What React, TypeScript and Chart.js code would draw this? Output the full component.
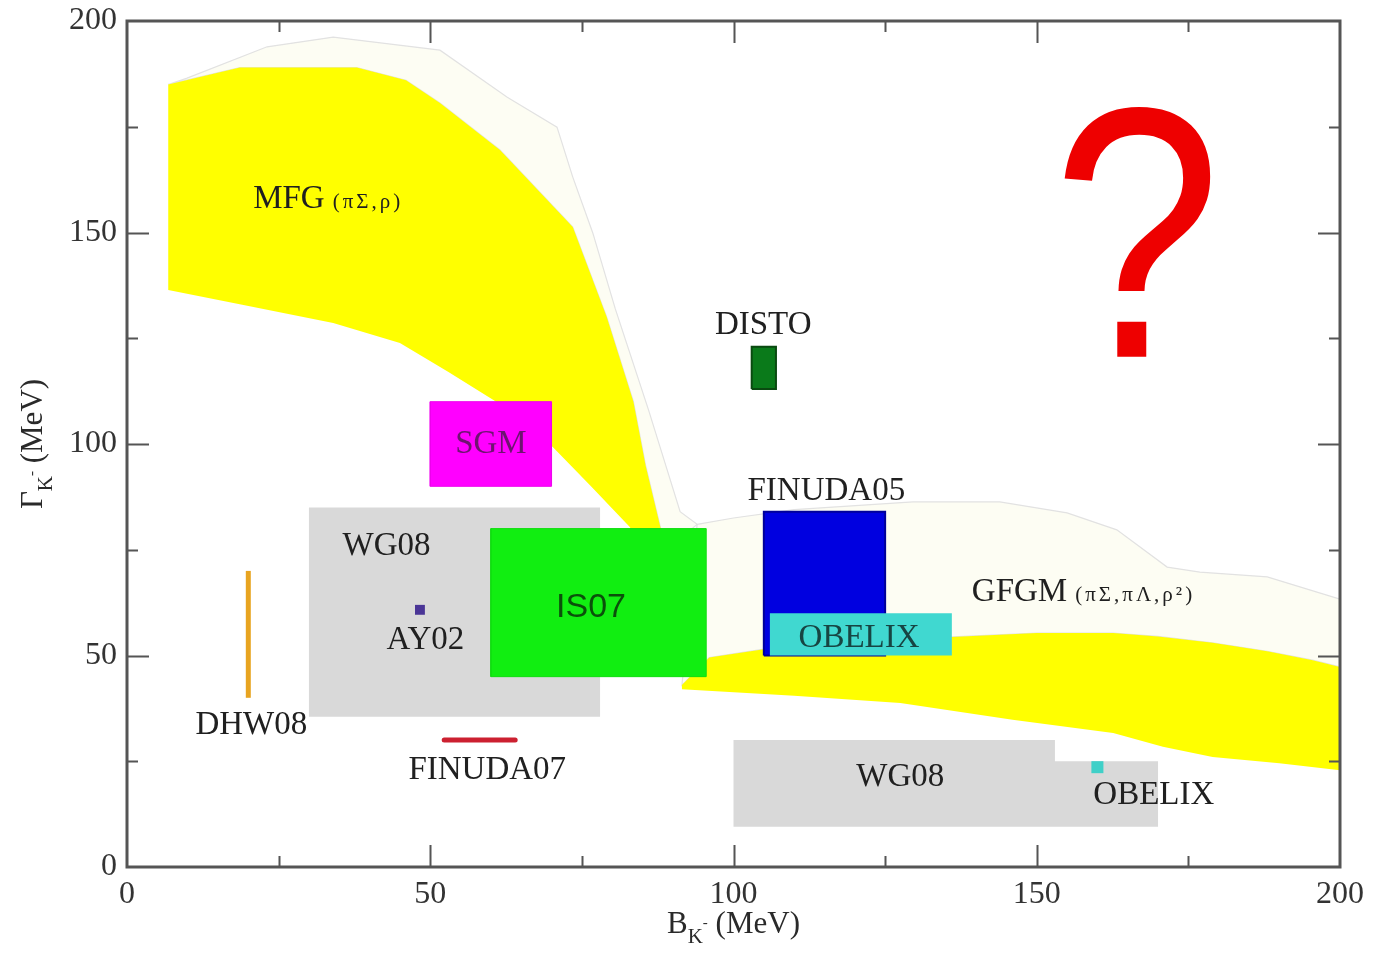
import React, { useEffect, useRef } from "react";
import { Chart, registerables } from "chart.js";

Chart.register(...registerables);

// ---------- axes ----------
const X_MIN = 0;
const X_MAX = 200;
const Y_MIN = 0;
const Y_MAX = 200;
const MAJOR_STEP = 50;
const MINOR_STEP = 25;

// ---------- theory bands (B, Gamma) ----------
const mfgUpper: [number, number][] = [
  [6.8, 185], [18.6, 189], [37.9, 189], [46, 186], [51.6, 180.6], [61.5, 169.5],
  [73.5, 151.3], [79.1, 130], [83.5, 110], [85.5, 95], [88, 80], [89, 75],
];
const mfgLower: [number, number][] = [
  [6.8, 136.4], [19, 132.9], [34, 128.6], [45, 123.9], [53, 117], [62, 109],
  [70.2, 99.3], [76.5, 90], [82.9, 80.4], [85, 75],
];
const mfgOutline: [number, number][] = [
  [6.8, 185], [9.9, 186.5], [23.1, 193.9], [34, 196.2], [51.6, 193.1], [62.7, 182],
  [70.9, 174.9], [73.5, 163.1], [76.8, 149.9], [80.5, 132], [86, 108], [91.2, 84], [94, 81],
];
const gfgmOutline: [number, number][] = [
  [94, 81], [100, 82.5], [110, 84.5], [129.6, 86.3], [143.9, 86.3], [155, 83.7],
  [163.2, 79.7], [171.5, 70.9], [176.9, 69.7], [188, 68.6], [198.9, 63.8], [200, 63.3],
];
const lowerBandTop: [number, number][] = [
  [91.5, 43], [96, 49.5], [105, 51.5], [120, 53], [136, 54.4], [150, 55.3],
  [162.6, 55.3], [170, 54.5], [179, 53], [188, 51], [195.5, 48.9], [200, 47.3],
];
const lowerBandBottom: [number, number][] = [
  [91.5, 42], [110, 40.5], [127.5, 38.8], [146, 34.8], [162.6, 31.7],
  [170.8, 28.4], [179, 26], [190, 24.5], [200, 22.9],
];

// ---------- experimental / model boxes [Bmin, Bmax, Gmin, Gmax] ----------
const wg08Upper = [30, 78, 35.5, 85];
const sgmBox = [50, 70, 90, 110];
const is07Box = [60, 95.5, 45, 80];
const distoBox = [103, 107, 113, 123];
const finuda05Box = [105, 125, 50, 84];
const obelixBox = [106, 136, 50, 60];
// WG08 lower region (step shape)
const wg08Lower: [number, number][] = [
  [100, 9.5], [100, 30], [153, 30], [153, 25], [170, 25], [170, 9.5],
];
// lines
const dhw08: [number, number][] = [[20, 40], [20, 70]];
const finuda07: [number, number][] = [[52.3, 30], [64, 30]];
// points
const ay02Point: [number, number] = [48.3, 60.8];
const obelixPoint: [number, number] = [160, 23.6];

// ---------- labels ----------
type Lbl = { text: string; x: number; y: number; sub?: string; color?: string; sans?: boolean; size?: number; align?: CanvasTextAlign };
const labels: Lbl[] = [
  { text: "MFG", sub: "(πΣ,ρ)", x: 20.8, y: 157.9, align: "left" },
  { text: "GFGM", sub: "(πΣ,πΛ,ρ²)", x: 139.3, y: 65, align: "left" },
  { text: "SGM", x: 60, y: 100, color: "#6e1470" },
  { text: "DISTO", x: 104.9, y: 128.1 },
  { text: "FINUDA05", x: 115.3, y: 88.7 },
  { text: "WG08", x: 42.8, y: 75.7 },
  { text: "AY02", x: 49.2, y: 53.7 },
  { text: "IS07", x: 76.5, y: 61.2, color: "#0b500b", sans: true, size: 34 },
  { text: "OBELIX", x: 120.7, y: 54.1, color: "#174543" },
  { text: "DHW08", x: 20.5, y: 33.4 },
  { text: "FINUDA07", x: 59.4, y: 22.9 },
  { text: "WG08", x: 127.5, y: 21.3 },
  { text: "OBELIX", x: 169.3, y: 17 },
];
const questionMark = { text: "?", x: 166.5, y: 120.6 };

const SERIF = "'Liberation Serif', 'DejaVu Serif', serif";
const SANS = "'Liberation Sans', Arial, sans-serif";

const toPts = (arr: [number, number][]) => arr.map(([x, y]) => ({ x, y }));
const polygon = (upper: [number, number][], lower: [number, number][]) => {
  const pts = [...upper, ...lower.slice().reverse()];
  pts.push(pts[0]);
  return toPts(pts);
};
const rect = (b: number[]) =>
  toPts([[b[0], b[2]], [b[1], b[2]], [b[1], b[3]], [b[0], b[3]], [b[0], b[2]]]);
const closed = (arr: [number, number][]) => toPts([...arr, arr[0]]);

function shape(data: any[], bg: string, border: string, bw = 0) {
  return {
    data,
    showLine: true,
    fill: "shape",
    backgroundColor: bg,
    borderColor: border,
    borderWidth: bw,
    pointRadius: 0,
    tension: 0,
  };
}

function drawParts(ctx: CanvasRenderingContext2D, parts: { t: string; size: number; dy: number }[], cx: number, baseY: number) {
  let total = 0;
  for (const p of parts) {
    ctx.font = `${p.size}px ${SERIF}`;
    total += ctx.measureText(p.t).width;
  }
  let x = cx - total / 2;
  ctx.textAlign = "left";
  ctx.textBaseline = "alphabetic";
  for (const p of parts) {
    ctx.font = `${p.size}px ${SERIF}`;
    ctx.fillText(p.t, x, baseY + p.dy);
    x += ctx.measureText(p.t).width;
  }
}

const overlayPlugin = {
  id: "overlay",
  afterDatasetsDraw(chart: any) {
    const { ctx, chartArea: a, scales } = chart;
    const xs = scales.x;
    const ys = scales.y;
    ctx.save();

    // labels
    for (const L of labels) {
      const px = xs.getPixelForValue(L.x);
      const py = ys.getPixelForValue(L.y);
      const size = L.size ?? 33;
      ctx.font = `${size}px ${L.sans ? SANS : SERIF}`;
      ctx.fillStyle = L.color ?? "#202020";
      ctx.textBaseline = "middle";
      ctx.textAlign = L.align ?? "center";
      (ctx as any).letterSpacing = "0px";
      ctx.fillText(L.text, px, py);
      if (L.sub) {
        const w = ctx.measureText(L.text).width;
        ctx.font = `21px ${SERIF}`;
        ctx.textAlign = "left";
        (ctx as any).letterSpacing = "3px";
        ctx.fillText(L.sub, px + w + 8, py + 3);
        (ctx as any).letterSpacing = "0px";
      }
    }

    // question mark
    ctx.save();
    ctx.translate(xs.getPixelForValue(questionMark.x), ys.getPixelForValue(questionMark.y));
    ctx.scale(0.85, 1);
    ctx.font = `358px ${SANS}`;
    ctx.fillStyle = "#ee0000";
    ctx.textAlign = "center";
    ctx.textBaseline = "alphabetic";
    ctx.fillText(questionMark.text, 0, 0);
    ctx.restore();

    // frame
    ctx.strokeStyle = "#555";
    ctx.lineWidth = 3;
    ctx.strokeRect(a.left, a.top, a.right - a.left, a.bottom - a.top);

    // ticks (inside, all four sides)
    ctx.lineWidth = 2;
    ctx.beginPath();
    for (let v = X_MIN + MINOR_STEP; v < X_MAX; v += MINOR_STEP) {
      const len = v % MAJOR_STEP === 0 ? 22 : 11;
      const px = Math.round(xs.getPixelForValue(v)) + 0.5;
      ctx.moveTo(px, a.bottom);
      ctx.lineTo(px, a.bottom - len);
      ctx.moveTo(px, a.top);
      ctx.lineTo(px, a.top + len);
    }
    for (let v = Y_MIN + MINOR_STEP; v < Y_MAX; v += MINOR_STEP) {
      const len = v % MAJOR_STEP === 0 ? 22 : 11;
      const py = Math.round(ys.getPixelForValue(v)) + 0.5;
      ctx.moveTo(a.left, py);
      ctx.lineTo(a.left + len, py);
      ctx.moveTo(a.right, py);
      ctx.lineTo(a.right - len, py);
    }
    ctx.stroke();

    // axis titles
    ctx.fillStyle = "#2a2a2a";
    const cx = (a.left + a.right) / 2;
    drawParts(
      ctx,
      [
        { t: "B", size: 31, dy: 0 },
        { t: "K", size: 21, dy: 10 },
        { t: "-", size: 15, dy: -6 },
        { t: " (MeV)", size: 31, dy: 0 },
      ],
      cx,
      a.bottom + 66
    );
    ctx.save();
    ctx.translate(42, (a.top + a.bottom) / 2);
    ctx.rotate(-Math.PI / 2);
    drawParts(
      ctx,
      [
        { t: "Γ", size: 31, dy: 0 },
        { t: "K", size: 21, dy: 10 },
        { t: "-", size: 15, dy: -6 },
        { t: " (MeV)", size: 31, dy: 0 },
      ],
      0,
      0
    );
    ctx.restore();

    ctx.restore();
  },
};

export default function App() {
  const ref = useRef<HTMLCanvasElement | null>(null);

  useEffect(() => {
    if (!ref.current) return;
    const layers = [
      shape(polygon(mfgOutline, mfgUpper), "rgba(252,252,238,0.7)", "#e2e2e2", 1.2),
      shape(polygon([...gfgmOutline, [200, 47.3]], lowerBandTop), "rgba(252,252,238,0.7)", "#e2e2e2", 1.2),
      shape(polygon(mfgUpper, mfgLower), "#ffff00", "#ffff00", 0),
      shape(polygon(lowerBandTop, lowerBandBottom), "#ffff00", "#ffff00", 0),
      shape(rect(wg08Upper), "#d9d9d9", "#d9d9d9", 0),
      shape(closed(wg08Lower), "#d9d9d9", "#d9d9d9", 0),
      shape(rect(sgmBox), "#ff00ff", "#ee00ee", 1),
      shape(rect(is07Box), "#11ee11", "#11dd11", 1),
      shape(rect(distoBox), "#0a7a1a", "#0a4a10", 2),
      shape(rect(finuda05Box), "#0000e0", "#00009a", 2),
      shape(rect(obelixBox), "#40d8d0", "#40d8d0", 0),
      {
        data: toPts(dhw08), showLine: true, fill: false, borderColor: "#e8a420",
        borderWidth: 5, pointRadius: 0, borderCapStyle: "butt",
      },
      {
        data: toPts(finuda07), showLine: true, fill: false, borderColor: "#cc2030",
        borderWidth: 5, pointRadius: 0, borderCapStyle: "round",
      },
      {
        data: toPts([ay02Point]), showLine: false, pointStyle: "rect", pointRadius: 7,
        backgroundColor: "#4a3596", borderColor: "#4a3596", borderWidth: 0,
      },
      {
        data: toPts([obelixPoint]), showLine: false, pointStyle: "rect", pointRadius: 8.5,
        backgroundColor: "#40d0c8", borderColor: "#40d0c8", borderWidth: 0,
      },
    ];
    const datasets = layers.map((d: any, i) => ({ ...d, order: layers.length - i }));

    const tickFont = { family: SERIF, size: 32 };
    const chart = new Chart(ref.current, {
      type: "scatter",
      data: { datasets } as any,
      options: {
        animation: false,
        responsive: false,
        maintainAspectRatio: false,
        layout: { padding: { top: 21, right: 33, left: 0, bottom: 0 } },
        plugins: { legend: { display: false }, tooltip: { enabled: false } },
        scales: {
          x: {
            type: "linear",
            min: X_MIN,
            max: X_MAX,
            ticks: { stepSize: MAJOR_STEP, font: tickFont, color: "#333", padding: 8, maxRotation: 0 },
            grid: { display: false, drawTicks: false },
            border: { display: false },
            afterFit: (s: any) => {
              s.height = 87;
              s.paddingLeft = 0;
              s.paddingRight = 0;
            },
          },
          y: {
            type: "linear",
            min: Y_MIN,
            max: Y_MAX,
            ticks: { stepSize: MAJOR_STEP, font: tickFont, color: "#333", padding: 10 },
            grid: { display: false, drawTicks: false },
            border: { display: false },
            afterFit: (s: any) => {
              s.width = 127;
              s.paddingTop = 0;
              s.paddingBottom = 0;
            },
          },
        },
      } as any,
      plugins: [overlayPlugin],
    });
    return () => chart.destroy();
  }, []);

  return (
    <div style={{ position: "fixed", left: 0, top: 0, width: 1373, height: 954, background: "#fff" }}>
      <canvas ref={ref} width={1373} height={954} style={{ width: 1373, height: 954, display: "block" }} />
    </div>
  );
}
